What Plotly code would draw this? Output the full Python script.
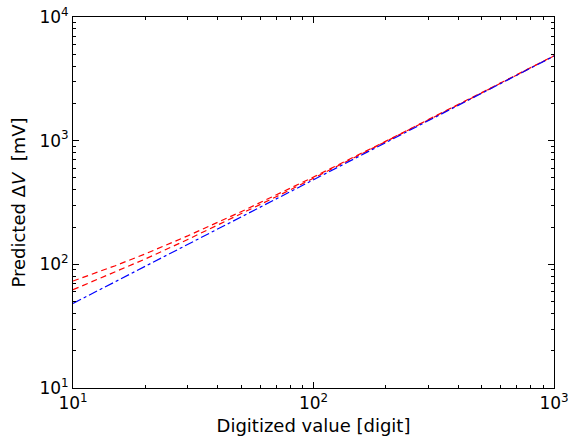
import plotly.graph_objects as go

x_vals = [10, 15, 20, 30, 50, 70, 100, 200, 500, 1000]
# Predicted ΔV [mV]
blue_vals = [48.3, 72.5, 96.6, 145, 241.5, 338, 483, 966, 2415, 4830]
red_low_vals = [62.3, 86.5, 110.6, 158.9, 255.5, 352.1, 497, 980, 2429, 4844]
red_high_vals = [73.3, 97.5, 121.6, 169.9, 266.5, 363.1, 508, 991, 2440, 4855]

x_ticks = [10, 100, 1000]
x_ticktext = ["10<sup>1</sup>", "10<sup>2</sup>", "10<sup>3</sup>"]
y_ticks = [10, 100, 1000, 10000]
y_ticktext = ["10<sup>1</sup>", "10<sup>2</sup>", "10<sup>3</sup>", "10<sup>4</sup>"]

fig = go.Figure()
fig.add_trace(go.Scatter(x=x_vals, y=red_high_vals, mode="lines",
                         line=dict(color="#ff0000", width=1.2, dash="6px,4px"), showlegend=False))
fig.add_trace(go.Scatter(x=x_vals, y=red_low_vals, mode="lines",
                         line=dict(color="#ff0000", width=1.2, dash="6px,4px"), showlegend=False))
fig.add_trace(go.Scatter(x=x_vals, y=blue_vals, mode="lines",
                         line=dict(color="#0000ff", width=1.2, dash="dashdot"), showlegend=False))

axis_common = dict(
    type="log", showgrid=False, zeroline=False, automargin=False,
    ticklabeloverflow="allow",
    showline=True, linecolor="black", linewidth=1, mirror="allticks",
    ticks="inside", ticklen=6, tickwidth=1, tickcolor="black",
    minor=dict(ticks="inside", ticklen=3, tickwidth=1, tickcolor="black", dtick="D1", showgrid=False),
    tickfont=dict(family="DejaVu Sans", size=17, color="black"),
)

fig.update_xaxes(range=[1, 3], tickvals=x_ticks, ticktext=x_ticktext,
                 title=dict(text="Digitized value [digit]", font=dict(family="DejaVu Sans", size=18, color="black"), standoff=14),
                 **axis_common)
fig.update_yaxes(range=[1, 4], tickvals=y_ticks, ticktext=y_ticktext,
                 title=dict(text="Predicted Δ<i>V</i>  [mV]", font=dict(family="DejaVu Sans", size=18, color="black"), standoff=9),
                 **axis_common)

fig.update_layout(width=568, height=436, margin=dict(l=73, r=14, t=17, b=48),
                  plot_bgcolor="white", paper_bgcolor="white")

fig.write_html("out.html")
